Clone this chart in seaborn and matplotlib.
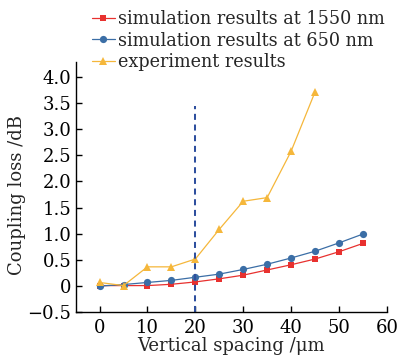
import matplotlib
matplotlib.use("Agg")
import matplotlib.pyplot as plt
import seaborn as sns
import pandas as pd

spacing = [0, 5, 10, 15, 20, 25, 30, 35, 40, 45, 50, 55]
sim_1550 = [0.0, 0.0, 0.0, 0.025, 0.07, 0.13, 0.20, 0.30, 0.40, 0.51, 0.65, 0.81]
sim_650 = [-0.01, 0.02, 0.06, 0.10, 0.16, 0.22, 0.31, 0.41, 0.53, 0.66, 0.82, 0.99]
exp_spacing = [0, 5, 10, 15, 20, 25, 30, 35, 40, 45]
experiment = [0.06, 0.0, 0.36, 0.36, 0.51, 1.08, 1.62, 1.69, 2.58, 3.72]
labels = ["simulation results at 1550 nm", "simulation results at 650 nm", "experiment results"]
marker_line_x = 20
xticks = [0, 10, 20, 30, 40, 50, 60]
yticks = [-0.5, 0, 0.5, 1.0, 1.5, 2.0, 2.5, 3.0, 3.5, 4.0]
ytick_labels = ["\u22120.5", "0", "0.5", "1.0", "1.5", "2.0", "2.5", "3.0", "3.5", "4.0"]

sns.set_style("ticks")
plt.rcParams['font.family'] = ['DejaVu Serif']

fig = plt.figure(figsize=(3.98, 3.59), dpi=100)
ax = fig.add_axes([0.190, 0.132, 0.782, 0.696])

c_red = "#e8312f"
c_blue = "#3b6ea6"
c_orange = "#f5b73b"

df1 = pd.DataFrame({"x": spacing, "y": sim_1550})
df2 = pd.DataFrame({"x": spacing, "y": sim_650})
df3 = pd.DataFrame({"x": exp_spacing, "y": experiment})

sns.lineplot(data=df1, x="x", y="y", ax=ax, color=c_red, marker="s", markersize=4.2,
             markeredgewidth=0, linewidth=0.9, label=labels[0])
sns.lineplot(data=df2, x="x", y="y", ax=ax, color=c_blue, marker="o", markersize=5.2,
             markeredgewidth=0, linewidth=0.9, label=labels[1])
sns.lineplot(data=df3, x="x", y="y", ax=ax, color=c_orange, marker="^", markersize=6.2,
             markeredgewidth=0, linewidth=0.9, label=labels[2])

ax.plot([marker_line_x, marker_line_x], [-0.5, 3.45], color="#2e4f9e", linestyle=(0, (3, 2.3)), linewidth=1.45)

ax.set_xlim(-5, 60)
ax.set_ylim(-0.5, 4.3)
ax.set_xticks(xticks)
ax.set_yticks(yticks)
ax.set_yticklabels(ytick_labels)
ax.tick_params(direction="in", length=4, width=1, labelsize=13, pad=3, colors="black")
ax.tick_params(axis="x", pad=5)
for s in ["top", "right"]:
    ax.spines[s].set_visible(False)
for s in ["left", "bottom"]:
    ax.spines[s].set_linewidth(1)
    ax.spines[s].set_color("black")

ax.set_xlabel("Vertical spacing /\u03bcm", fontsize=13, labelpad=0)
ax.set_ylabel("Coupling loss /dB", fontsize=13)
ax.yaxis.set_label_coords(-0.16, 0.467)

leg = ax.legend(loc="upper left", bbox_to_anchor=(0.03, 1.235), frameon=False, fontsize=12.7,
                handlelength=1.3, handletextpad=0.2, labelspacing=0.2, borderaxespad=0)

fig.savefig("out.png", dpi=100)
